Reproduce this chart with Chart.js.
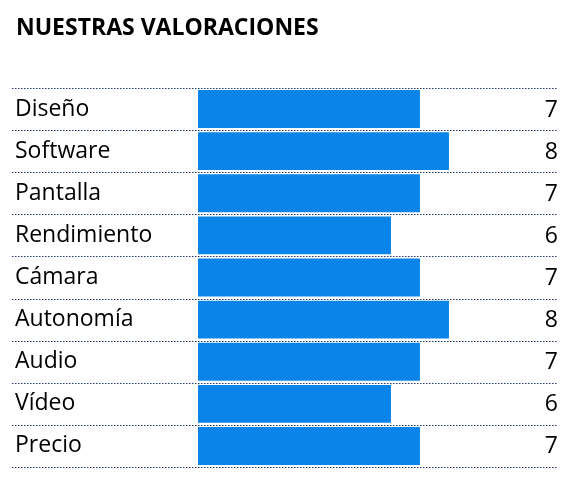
<!DOCTYPE html>
<html>
<head>
<meta charset="utf-8">
<script src="https://cdn.jsdelivr.net/npm/chart.js@4"></script>
<style>
  html, body { margin: 0; padding: 0; background: #fff; }
  #wrap { width: 580px; height: 482px; }
</style>
</head>
<body>
<div id="wrap"><canvas id="myChart"></canvas></div>
<script>
const categories = ['Diseño', 'Software', 'Pantalla', 'Rendimiento', 'Cámara', 'Autonomía', 'Audio', 'Vídeo', 'Precio'];
const scores = [7, 8, 7, 6, 7, 8, 7, 6, 7];
const title = 'NUESTRAS VALORACIONES';

const fontFamily = '"Open Sans", "Liberation Sans", sans-serif';
const axisMin = -0.655;

// title, dotted separators and the score numbers on the right
const extras = {
  id: 'extras',
  beforeDatasetsDraw(chart) {
    const ctx = chart.ctx;
    const area = chart.chartArea;
    ctx.save();
    ctx.strokeStyle = '#1f3864';
    ctx.lineWidth = 1.2;
    ctx.setLineDash([1.5, 1.5]);
    const step = (area.bottom - area.top) / categories.length;
    for (let i = 0; i <= categories.length; i++) {
      const yy = Math.round(area.top + i * step) + 0.5;
      ctx.beginPath();
      ctx.moveTo(12, yy);
      ctx.lineTo(557, yy);
      ctx.stroke();
    }
    ctx.restore();
  },
  afterDatasetsDraw(chart) {
    const ctx = chart.ctx;
    const y = chart.scales.y;
    ctx.save();
    ctx.fillStyle = '#000';
    ctx.font = 'bold 23px ' + fontFamily;
    ctx.textAlign = 'left';
    ctx.textBaseline = 'middle';
    ctx.fillText(title, 16, 28);
    ctx.font = '23px ' + fontFamily;
    ctx.textAlign = 'right';
    scores.forEach((v, i) => {
      ctx.fillText(String(v), 558, y.getPixelForValue(i) + 1);
    });
    ctx.restore();
  }
};

new Chart(document.getElementById('myChart'), {
  type: 'bar',
  data: {
    labels: categories,
    datasets: [{
      data: scores,
      base: axisMin,
      backgroundColor: '#0a84e8',
      borderWidth: 0,
      categoryPercentage: 1,
      barPercentage: 0.9
    }]
  },
  options: {
    indexAxis: 'y',
    responsive: true,
    maintainAspectRatio: false,
    animation: false,
    layout: { padding: { top: 88, bottom: 15, left: 15, right: 40 } },
    plugins: { legend: { display: false }, tooltip: { enabled: false } },
    scales: {
      x: {
        display: false,
        min: axisMin,
        max: 11.14
      },
      y: {
        afterFit(scale) { scale.width = 183; },
        border: { display: false },
        grid: { display: false },
        ticks: {
          crossAlign: 'far',
          color: '#000',
          padding: 0,
          font: { family: fontFamily, size: 23 }
        }
      }
    }
  },
  plugins: [extras]
});
</script>
</body>
</html>
